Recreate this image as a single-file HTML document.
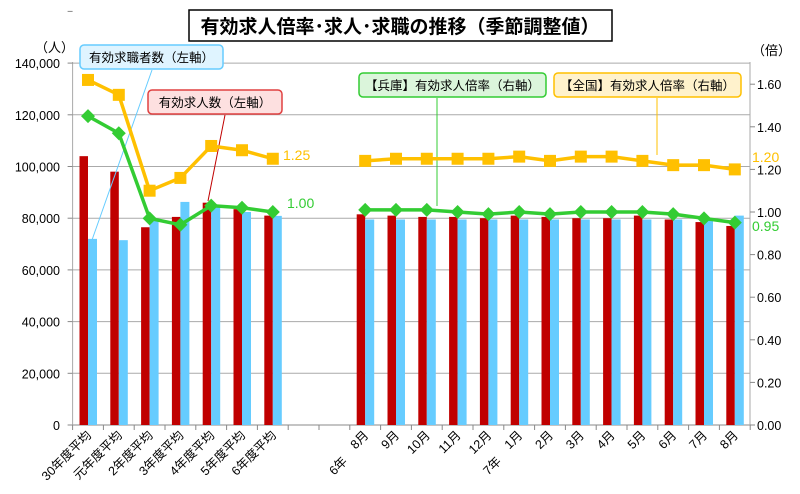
<!DOCTYPE html>
<html><head><meta charset="utf-8"><style>
html,body{margin:0;padding:0;background:#fff;overflow:hidden;}
svg{display:block;}
svg text{font-family:"Liberation Sans","Noto Sans CJK JP",sans-serif;}
</style></head><body>
<svg id="c" width="800" height="494" xmlns="http://www.w3.org/2000/svg"></svg>
<script>
const s=document.getElementById('c');let h='';
const X0=72.6,X1=750,Y0=425,CW=30.8;
const yl=v=>Y0-v/20000*51.7, yr=v=>Y0-v/0.2*42.6;
h+=`<rect x="189" y="10" width="423" height="31" fill="#fff" stroke="#000" stroke-width="1.5"/>`;
h+=`<text x="400" y="33" font-size="19" font-weight="bold" text-anchor="middle">有効求人倍率･求人･求職の推移（季節調整値）</text>`;
for(let i=0;i<=7;i++){const y=yl(i*20000);h+=`<line x1="${X0}" x2="${X1}" y1="${y}" y2="${y}" stroke="${i==0?'#888':'#aaa'}" stroke-width="1"/>`;
h+=`<text x="60" y="${y+5}" font-size="12.5" text-anchor="end">${i==0?'0':(i*20000).toLocaleString('en-US')}</text>`;}
h+=`<line x1="${X1}" x2="${X1}" y1="62" y2="${Y0}" stroke="#aaa"/><line x1="${X0}" x2="${X0}" y1="62" y2="${Y0}" stroke="#aaa"/>`;
for(let i=0;i<=8;i++){const y=yr(i*0.2);h+=`<line x1="${X1}" x2="${X1+5}" y1="${y}" y2="${y}" stroke="#888"/><text x="757" y="${y+5}" font-size="12.5">${(i*0.2).toFixed(2)}</text>`;
const yy=yl(i*20000);h+=`<line x1="${X0-5}" x2="${X0}" y1="${yy}" y2="${yy}" stroke="#888"/>`;}
h+=`<text x="35" y="52" font-size="13">（人）</text><text x="752" y="55" font-size="13">（倍）</text>`;
for(let i=0;i<=22;i++){const x=X0+i*CW;h+=`<line x1="${x}" x2="${x}" y1="${Y0}" y2="${Y0+5}" stroke="#888"/>`;}
const idx=[0,1,2,3,4,5,6,9,10,11,12,13,14,15,16,17,18,19,20,21];
const red=[104000,98000,76500,80500,86000,83500,81000,81500,81000,80500,80500,80000,81000,80500,80000,80000,81000,79500,78500,77000];
const blue=[72000,71500,79300,86300,84300,82400,80900,79500,79500,79500,79500,79500,79500,79500,79500,79500,79500,79500,79500,81000];
const ora=[1.62,1.55,1.10,1.16,1.31,1.29,1.25,1.24,1.25,1.25,1.25,1.25,1.26,1.24,1.26,1.26,1.24,1.22,1.22,1.20];
const gre=[1.45,1.37,0.97,0.94,1.03,1.02,1.00,1.01,1.01,1.01,1.00,0.99,1.00,0.99,1.00,1.00,1.00,0.99,0.97,0.95];
idx.forEach((k,j)=>{const c=X0+(k+0.5)*CW;
h+=`<rect x="${c-8.5}" y="${yl(red[j])}" width="8.5" height="${Y0-yl(red[j])}" fill="#c00000"/>`;
h+=`<rect x="${c}" y="${yl(blue[j])}" width="9" height="${Y0-yl(blue[j])}" fill="#66ccff"/>`;});
function line(d,col,mk,a,b){let p=[];for(let j=a;j<b;j++)p.push([X0+(idx[j]+0.5)*CW,yr(d[j])]);
h+=`<polyline points="${p.map(q=>q.join(',')).join(' ')}" fill="none" stroke="${col}" stroke-width="3.5"/>`;
p.forEach(([x,y])=>{h+=mk=='s'?`<rect x="${x-6}" y="${y-6}" width="12" height="12" fill="${col}"/>`:`<polygon points="${x},${y-7} ${x+7},${y} ${x},${y+7} ${x-7},${y}" fill="${col}"/>`;});}
h+=`<line x1="152" y1="70" x2="92" y2="240" stroke="#66ccff"/><line x1="225" y1="115" x2="208" y2="201" stroke="#c00000"/>`;
h+=`<line x1="437" y1="98" x2="437" y2="206" stroke="#33cc33"/><line x1="657" y1="98" x2="657" y2="155" stroke="#ffc000"/>`;
line(ora,'#ffc000','s',0,7);line(ora,'#ffc000','s',7,20);line(gre,'#33cc33','d',0,7);line(gre,'#33cc33','d',7,20);
h+=`<text x="283" y="160" font-size="14" fill="#ffc000">1.25</text><text x="287" y="208" font-size="14" fill="#33cc33">1.00</text>`;
h+=`<text x="752" y="162" font-size="14" fill="#ffc000">1.20</text><text x="752" y="231" font-size="14" fill="#33cc33">0.95</text>`;
function box(x,y,w,t,fill,st){h+=`<rect x="${x}" y="${y}" width="${w}" height="24" rx="4" fill="${fill}" stroke="${st}" stroke-width="1.5"/><text x="${x+w/2}" y="${y+17}" font-size="12.5" text-anchor="middle">${t}</text>`;}
box(80,45,143,'有効求職者数（左軸）','#dff4ff','#66ccff');
box(148,90,134,'有効求人数（左軸）','#fde0e0','#e04040');
box(359,73,187,'【兵庫】有効求人倍率（右軸）','#dbf5db','#33cc33');
box(554,73,187,'【全国】有効求人倍率（右軸）','#fff2cc','#ffc000');
const labs=['30年度平均','元年度平均','2年度平均','3年度平均','4年度平均','5年度平均','6年度平均','8月','9月','10月','11月','12月','1月','2月','3月','4月','5月','6月','7月','8月'];
idx.forEach((k,j)=>{const c=X0+(k+0.5)*CW+4;h+=`<text transform="translate(${c},436) rotate(-45)" font-size="12.5" text-anchor="end">${labs[j]}</text>`;});
h+=`<text transform="translate(348,462) rotate(-45)" font-size="12.5" text-anchor="end">6年</text>`;
h+=`<text transform="translate(502,462) rotate(-45)" font-size="12.5" text-anchor="end">7年</text>`;
s.innerHTML=h;
</script>
</body></html>
